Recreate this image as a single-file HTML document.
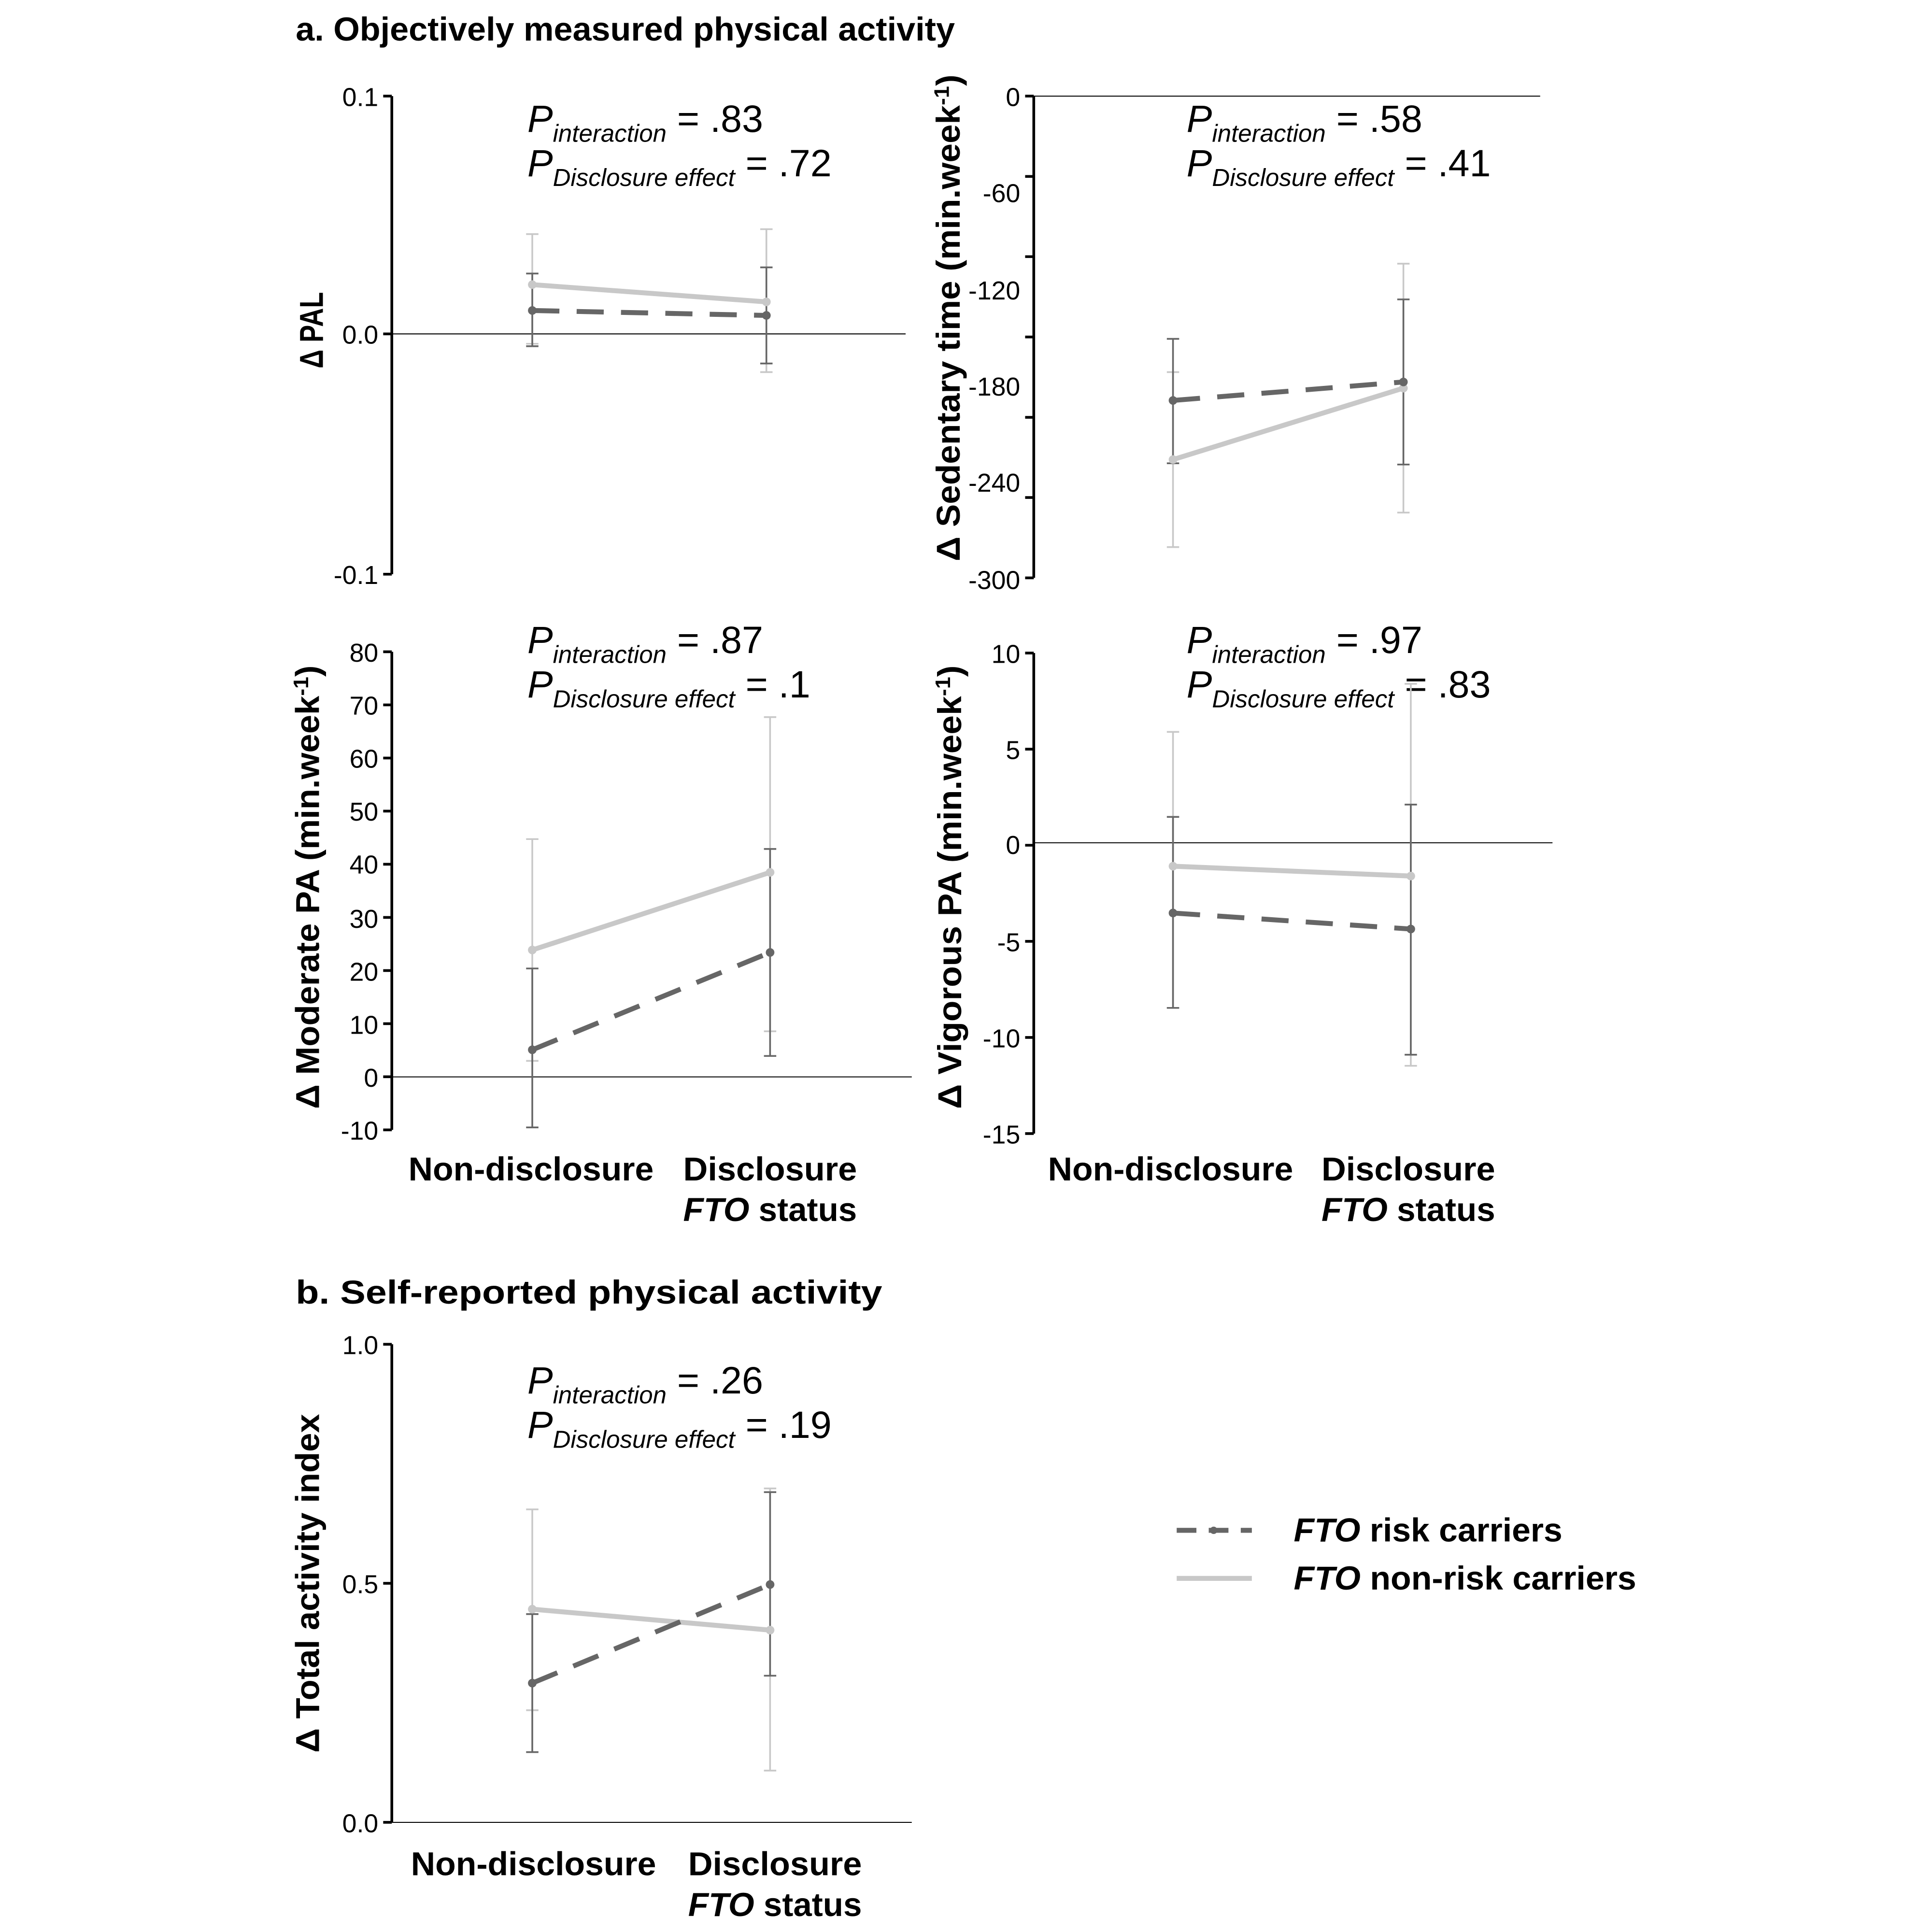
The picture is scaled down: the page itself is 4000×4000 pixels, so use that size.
<!DOCTYPE html>
<html><head><meta charset="utf-8"><style>
html,body{margin:0;padding:0;background:#fff;}
svg{display:block;}
text{font-family:"Liberation Sans",Arial,sans-serif;fill:#000;}
.t{font-size:21px;}
.b{font-weight:bold;}
.yl{font-size:27px;font-weight:bold;}
.xl{font-size:27px;font-weight:bold;}
.p{font-size:31px;}
.pi{font-style:italic;}
.s{font-size:20px;font-style:italic;}
.ax{stroke:#000;stroke-width:2.2;fill:none;}
.z{stroke:#000;stroke-width:0.8;}
.lg{stroke:#c8c8c8;stroke-width:1.4;}
.dk{stroke:#666;stroke-width:1.4;}
.ll{stroke:#c8c8c8;stroke-width:4;fill:none;}
.dl{stroke:#666;stroke-width:4;fill:none;stroke-dasharray:22,14;}
</style></head><body>
<svg width="4000" height="4000" viewBox="0 0 1568 1568" xmlns="http://www.w3.org/2000/svg">
<text x="240" y="33" class="b" style="font-size:27px" textLength="535" lengthAdjust="spacingAndGlyphs">a. Objectively measured physical activity</text>

<!-- Panel 1 -->
<g>
<path class="ax" d="M318 78 V466 M311 78 H318 M311 271 H318 M311 466 H318"/>
<line class="z" x1="318" y1="271" x2="735" y2="271"/>
<text class="t" x="307" y="86" text-anchor="end">0.1</text>
<text class="t" x="307" y="279" text-anchor="end">0.0</text>
<text class="t" x="307" y="474" text-anchor="end">-0.1</text>
<text class="yl" transform="translate(262,268) rotate(-90)" text-anchor="middle" textLength="62" lengthAdjust="spacingAndGlyphs">Δ PAL</text>
<text class="p" x="428" y="107"><tspan class="pi">P</tspan><tspan class="s" dy="8">interaction</tspan><tspan dy="-8"> = .83</tspan></text>
<text class="p" x="428" y="143"><tspan class="pi">P</tspan><tspan class="s" dy="8">Disclosure effect</tspan><tspan dy="-8"> = .72</tspan></text>
<path class="lg" d="M432 190 V279 M427 190 H437 M427 279 H437 M622 186 V302 M617 186 H627 M617 302 H627"/>
<path class="dk" d="M432 222 V281 M427 222 H437 M427 281 H437 M622 217 V295 M617 217 H627 M617 295 H627"/>
<line class="ll" x1="432" y1="231" x2="622" y2="245"/>
<line class="dl" x1="432" y1="252" x2="622" y2="256"/>
<circle cx="432" cy="231" r="3.5" fill="#c8c8c8"/><circle cx="622" cy="245" r="3.5" fill="#c8c8c8"/>
<circle cx="432" cy="252" r="3.5" fill="#666"/><circle cx="622" cy="256" r="3.5" fill="#666"/>
</g>

<!-- Panel 2 -->
<g>
<path class="ax" d="M839 78 V469 M832 78 H839 M832 143.2 H839 M832 208.3 H839 M832 273.5 H839 M832 338.7 H839 M832 403.8 H839 M832 469 H839"/>
<line class="z" x1="839" y1="78" x2="1250" y2="78"/>
<text class="t" x="828" y="86" text-anchor="end">0</text>
<text class="t" x="828" y="164" text-anchor="end">-60</text>
<text class="t" x="828" y="243" text-anchor="end">-120</text>
<text class="t" x="828" y="321" text-anchor="end">-180</text>
<text class="t" x="828" y="399" text-anchor="end">-240</text>
<text class="t" x="828" y="478" text-anchor="end">-300</text>
<text class="yl" transform="translate(779,258) rotate(-90)" text-anchor="middle" textLength="395" lengthAdjust="spacingAndGlyphs">Δ Sedentary time (min.week<tspan dy="-9" style="font-size:17px">-1</tspan><tspan dy="9">)</tspan></text>
<text class="p" x="963" y="107"><tspan class="pi">P</tspan><tspan class="s" dy="8">interaction</tspan><tspan dy="-8"> = .58</tspan></text>
<text class="p" x="963" y="143"><tspan class="pi">P</tspan><tspan class="s" dy="8">Disclosure effect</tspan><tspan dy="-8"> = .41</tspan></text>
<path class="lg" d="M952 302 V444 M947 302 H957 M947 444 H957 M1139 214 V416 M1134 214 H1144 M1134 416 H1144"/>
<path class="dk" d="M952 275 V376 M947 275 H957 M947 376 H957 M1139 243 V377 M1134 243 H1144 M1134 377 H1144"/>
<line class="ll" x1="952" y1="373" x2="1139" y2="315"/>
<line class="dl" x1="952" y1="325" x2="1139" y2="310"/>
<circle cx="952" cy="373" r="3.5" fill="#c8c8c8"/><circle cx="1139" cy="315" r="3.5" fill="#c8c8c8"/>
<circle cx="952" cy="325" r="3.5" fill="#666"/><circle cx="1139" cy="310" r="3.5" fill="#666"/>
</g>

<!-- Panel 3 -->
<g>
<path class="ax" d="M318 529 V917 M311 529 H318 M311 572.1 H318 M311 615.2 H318 M311 658.3 H318 M311 701.4 H318 M311 744.6 H318 M311 787.7 H318 M311 830.8 H318 M311 873.9 H318 M311 917 H318"/>
<line class="z" x1="318" y1="874" x2="740" y2="874"/>
<text class="t" x="307" y="537" text-anchor="end">80</text>
<text class="t" x="307" y="580" text-anchor="end">70</text>
<text class="t" x="307" y="623" text-anchor="end">60</text>
<text class="t" x="307" y="666" text-anchor="end">50</text>
<text class="t" x="307" y="709" text-anchor="end">40</text>
<text class="t" x="307" y="753" text-anchor="end">30</text>
<text class="t" x="307" y="796" text-anchor="end">20</text>
<text class="t" x="307" y="839" text-anchor="end">10</text>
<text class="t" x="307" y="882" text-anchor="end">0</text>
<text class="t" x="307" y="925" text-anchor="end">-10</text>
<text class="yl" transform="translate(259,720) rotate(-90)" text-anchor="middle" textLength="360" lengthAdjust="spacingAndGlyphs">Δ Moderate PA (min.week<tspan dy="-9" style="font-size:17px">-1</tspan><tspan dy="9">)</tspan></text>
<text class="p" x="428" y="530"><tspan class="pi">P</tspan><tspan class="s" dy="8">interaction</tspan><tspan dy="-8"> = .87</tspan></text>
<text class="p" x="428" y="566"><tspan class="pi">P</tspan><tspan class="s" dy="8">Disclosure effect</tspan><tspan dy="-8"> = .1</tspan></text>
<path class="lg" d="M432 681 V861 M427 681 H437 M427 861 H437 M625 582 V837 M620 582 H630 M620 837 H630"/>
<path class="dk" d="M432 786 V915 M427 786 H437 M427 915 H437 M625 689 V857 M620 689 H630 M620 857 H630"/>
<line class="ll" x1="432" y1="771" x2="625" y2="708"/>
<line class="dl" x1="432" y1="852" x2="625" y2="773"/>
<circle cx="432" cy="771" r="3.5" fill="#c8c8c8"/><circle cx="625" cy="708" r="3.5" fill="#c8c8c8"/>
<circle cx="432" cy="852" r="3.5" fill="#666"/><circle cx="625" cy="773" r="3.5" fill="#666"/>
<text class="xl" x="431" y="958" text-anchor="middle" textLength="199" lengthAdjust="spacingAndGlyphs">Non-disclosure</text>
<text class="xl" x="625" y="958" text-anchor="middle" textLength="141" lengthAdjust="spacingAndGlyphs">Disclosure</text>
<text class="xl" x="625" y="991" text-anchor="middle" textLength="141" lengthAdjust="spacingAndGlyphs"><tspan font-style="italic">FTO</tspan> status</text>
</g>

<!-- Panel 4 -->
<g>
<path class="ax" d="M839 530 V920 M832 530 H839 M832 608 H839 M832 686 H839 M832 764 H839 M832 842 H839 M832 920 H839"/>
<line class="z" x1="839" y1="684" x2="1260" y2="684"/>
<text class="t" x="828" y="538" text-anchor="end">10</text>
<text class="t" x="828" y="616" text-anchor="end">5</text>
<text class="t" x="828" y="693" text-anchor="end">0</text>
<text class="t" x="828" y="772" text-anchor="end">-5</text>
<text class="t" x="828" y="850" text-anchor="end">-10</text>
<text class="t" x="828" y="928" text-anchor="end">-15</text>
<text class="yl" transform="translate(780,720) rotate(-90)" text-anchor="middle" textLength="360" lengthAdjust="spacingAndGlyphs">Δ Vigorous PA (min.week<tspan dy="-9" style="font-size:17px">-1</tspan><tspan dy="9">)</tspan></text>
<text class="p" x="963" y="530"><tspan class="pi">P</tspan><tspan class="s" dy="8">interaction</tspan><tspan dy="-8"> = .97</tspan></text>
<text class="p" x="963" y="566"><tspan class="pi">P</tspan><tspan class="s" dy="8">Disclosure effect</tspan><tspan dy="-8"> = .83</tspan></text>
<path class="lg" d="M952 594 V818 M947 594 H957 M947 818 H957 M1145 555 V865 M1140 555 H1150 M1140 865 H1150"/>
<path class="dk" d="M952 663 V818 M947 663 H957 M947 818 H957 M1145 653 V856 M1140 653 H1150 M1140 856 H1150"/>
<line class="ll" x1="952" y1="703" x2="1145" y2="711"/>
<line class="dl" x1="952" y1="741" x2="1145" y2="754"/>
<circle cx="952" cy="703" r="3.5" fill="#c8c8c8"/><circle cx="1145" cy="711" r="3.5" fill="#c8c8c8"/>
<circle cx="952" cy="741" r="3.5" fill="#666"/><circle cx="1145" cy="754" r="3.5" fill="#666"/>
<text class="xl" x="950" y="958" text-anchor="middle" textLength="199" lengthAdjust="spacingAndGlyphs">Non-disclosure</text>
<text class="xl" x="1143" y="958" text-anchor="middle" textLength="141" lengthAdjust="spacingAndGlyphs">Disclosure</text>
<text class="xl" x="1143" y="991" text-anchor="middle" textLength="141" lengthAdjust="spacingAndGlyphs"><tspan font-style="italic">FTO</tspan> status</text>
</g>

<text x="240" y="1058" class="b" style="font-size:27px" textLength="476" lengthAdjust="spacingAndGlyphs">b. Self-reported physical activity</text>

<!-- Panel 5 -->
<g>
<path class="ax" d="M318 1091 V1479 M311 1091 H318 M311 1285 H318 M311 1479 H318"/>
<line class="z" x1="318" y1="1479" x2="740" y2="1479"/>
<text class="t" x="307" y="1099" text-anchor="end">1.0</text>
<text class="t" x="307" y="1293" text-anchor="end">0.5</text>
<text class="t" x="307" y="1487" text-anchor="end">0.0</text>
<text class="yl" transform="translate(259,1285) rotate(-90)" text-anchor="middle" textLength="275" lengthAdjust="spacingAndGlyphs">Δ Total activity index</text>
<text class="p" x="428" y="1131"><tspan class="pi">P</tspan><tspan class="s" dy="8">interaction</tspan><tspan dy="-8"> = .26</tspan></text>
<text class="p" x="428" y="1167"><tspan class="pi">P</tspan><tspan class="s" dy="8">Disclosure effect</tspan><tspan dy="-8"> = .19</tspan></text>
<path class="lg" d="M432 1225 V1388 M427 1225 H437 M427 1388 H437 M625 1208 V1437 M620 1208 H630 M620 1437 H630"/>
<path class="dk" d="M432 1310 V1422 M427 1310 H437 M427 1422 H437 M625 1211 V1360 M620 1211 H630 M620 1360 H630"/>
<line class="ll" x1="432" y1="1306" x2="625" y2="1323"/>
<line class="dl" x1="432" y1="1366" x2="625" y2="1286"/>
<circle cx="432" cy="1306" r="3.5" fill="#c8c8c8"/><circle cx="625" cy="1323" r="3.5" fill="#c8c8c8"/>
<circle cx="432" cy="1366" r="3.5" fill="#666"/><circle cx="625" cy="1286" r="3.5" fill="#666"/>
<text class="xl" x="433" y="1522" text-anchor="middle" textLength="199" lengthAdjust="spacingAndGlyphs">Non-disclosure</text>
<text class="xl" x="629" y="1522" text-anchor="middle" textLength="141" lengthAdjust="spacingAndGlyphs">Disclosure</text>
<text class="xl" x="629" y="1555" text-anchor="middle" textLength="141" lengthAdjust="spacingAndGlyphs"><tspan font-style="italic">FTO</tspan> status</text>
</g>

<!-- Legend -->
<line x1="955" y1="1242" x2="1016" y2="1242" stroke="#666" stroke-width="4" stroke-dasharray="16,10"/>
<circle cx="985" cy="1242" r="3" fill="#666"/>
<line x1="955" y1="1281" x2="1016" y2="1281" stroke="#c8c8c8" stroke-width="4"/>
<text class="xl" x="1050" y="1251" textLength="218" lengthAdjust="spacingAndGlyphs"><tspan font-style="italic">FTO</tspan> risk carriers</text>
<text class="xl" x="1050" y="1290" textLength="278" lengthAdjust="spacingAndGlyphs"><tspan font-style="italic">FTO</tspan> non-risk carriers</text>
</svg>
</body></html>
